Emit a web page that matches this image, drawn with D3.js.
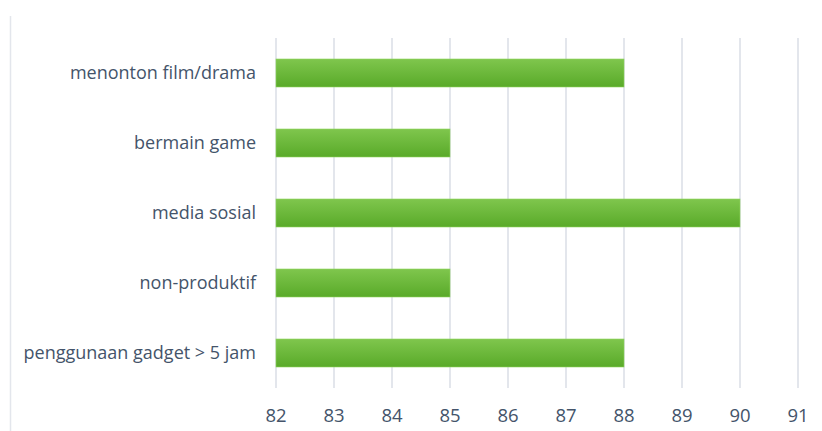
<!DOCTYPE html>
<html>
<head>
<meta charset="utf-8">
<script src="https://cdn.jsdelivr.net/npm/d3@7"></script>
<style>
  body { margin: 0; background: #fff; }
  svg { display: block; }
</style>
</head>
<body>
<div id="chart"></div>
<script>
const categories = [
  "menonton film/drama",
  "bermain game",
  "media sosial",
  "non-produktif",
  "penggunaan gadget > 5 jam"
];
const values = [88, 85, 90, 85, 88];
const tickValues = [82, 83, 84, 85, 86, 87, 88, 89, 90, 91];

const W = 822, H = 431;
const M = { top: 38, right: 24, bottom: 43, left: 276 };

const svg = d3.select("#chart").append("svg")
  .attr("width", W).attr("height", H)
  .attr("font-family", "'Open Sans', sans-serif");

const defs = svg.append("defs");
const grad = defs.append("linearGradient")
  .attr("id", "barGrad").attr("x1", 0).attr("y1", 0).attr("x2", 0).attr("y2", 1);
grad.append("stop").attr("offset", "0%").attr("stop-color", "#7fc64d");
grad.append("stop").attr("offset", "100%").attr("stop-color", "#59aa29");

// outer frame edge on the left
svg.append("line")
  .attr("x1", 10.5).attr("x2", 10.5).attr("y1", 16).attr("y2", H)
  .attr("stroke", "#e3e6ec").attr("stroke-width", 1.5);

const x = d3.scaleLinear().domain([82, 91]).range([M.left, 798]);
const y = d3.scaleBand().domain(categories).range([M.top, H - M.bottom]).paddingInner(0.6).paddingOuter(0.3);

// gridlines
svg.append("g")
  .selectAll("line")
  .data(tickValues)
  .join("line")
    .attr("x1", d => x(d)).attr("x2", d => x(d))
    .attr("y1", M.top).attr("y2", H - M.bottom)
    .attr("stroke", "#e3e6ec").attr("stroke-width", 2);

// bars
svg.append("g")
  .selectAll("rect")
  .data(categories)
  .join("rect")
    .attr("x", x(82))
    .attr("y", d => y(d))
    .attr("width", (d, i) => x(values[i]) - x(82))
    .attr("height", y.bandwidth())
    .attr("fill", "url(#barGrad)")
    .attr("stroke", "#8fd35e").attr("stroke-width", 0.6);

// category labels
svg.append("g")
  .selectAll("text")
  .data(categories)
  .join("text")
    .attr("x", M.left - 20)
    .attr("y", d => y(d) + y.bandwidth() / 2)
    .attr("dy", "0.35em")
    .attr("text-anchor", "end")
    .attr("font-size", 18)
    .attr("fill", "#44546a")
    .text(d => d);

// x tick labels
svg.append("g")
  .selectAll("text")
  .data(tickValues)
  .join("text")
    .attr("x", d => x(d))
    .attr("y", 422)
    .attr("text-anchor", "middle")
    .attr("font-size", 18.5)
    .attr("fill", "#44546a")
    .text(d => d);
</script>
</body>
</html>
